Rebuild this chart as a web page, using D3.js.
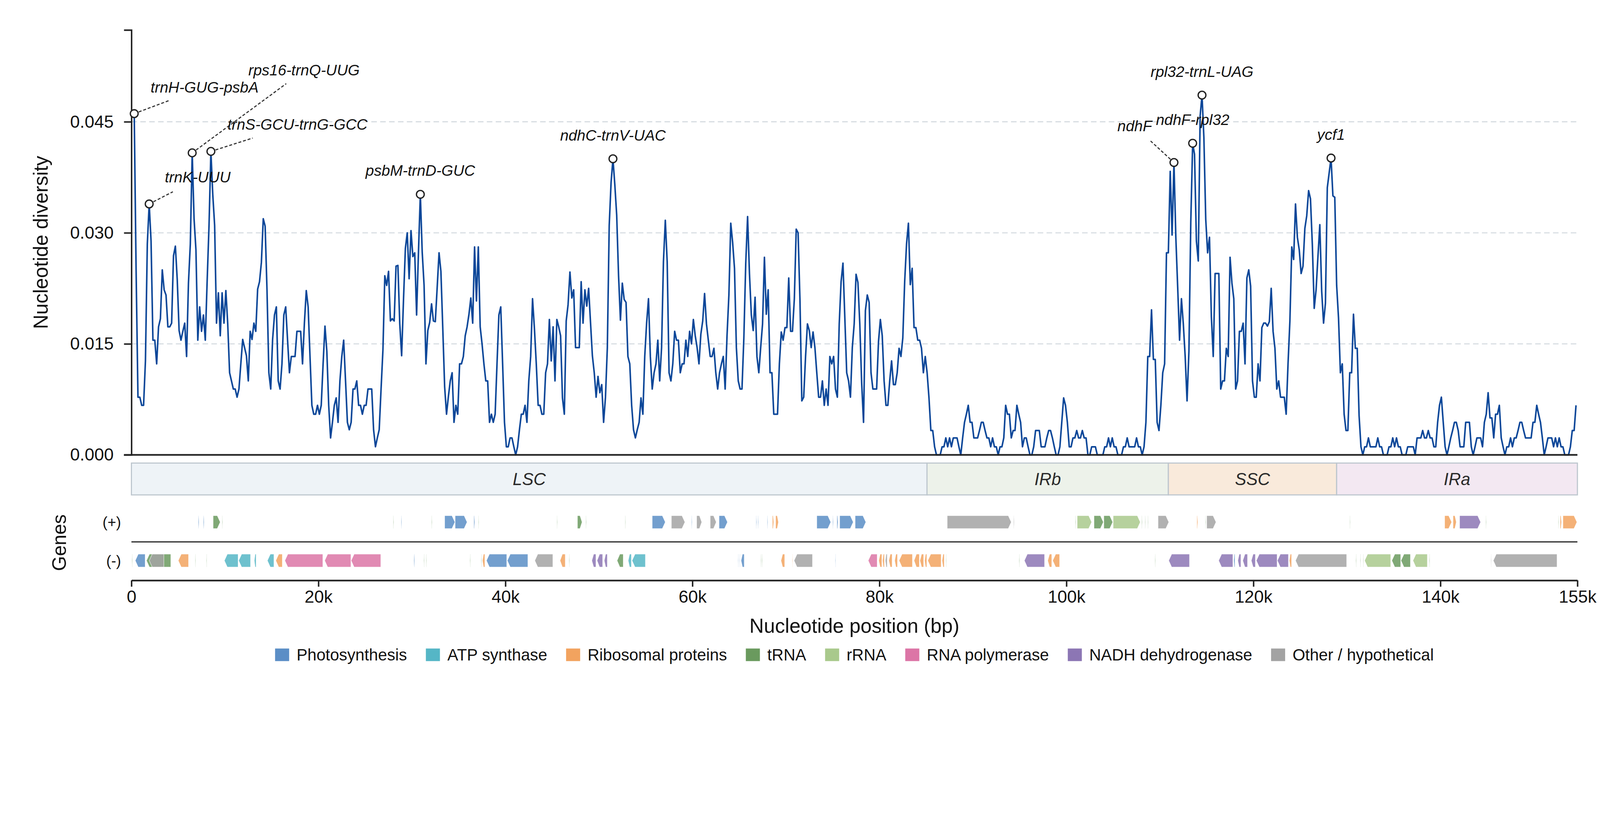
<!DOCTYPE html>
<html>
<head>
<meta charset="utf-8">
<script src="https://cdn.jsdelivr.net/npm/d3@7"></script>
<style>
  html, body { margin: 0; padding: 0; background: #fff; overflow: hidden; }
  svg { display: block; }
  text { font-family: "Liberation Sans", Arial, sans-serif; }
</style>
</head>
<body>
<div id="main"></div>
<script>
// sliding window: first window centre and step (bp)
const windowStart = 300;
const windowStep = 200;
const genomeLength = 154650;

// nucleotide diversity per window, in units of 1e-3
const piMilli = [
  46.1, 25.0, 7.8, 7.8, 6.7, 6.7, 12.7, 28.5, 33.9, 28.9,
  15.5, 15.5, 12.3, 17.3, 18.4, 25.0, 22.3, 21.6, 17.3, 17.3,
  17.8, 26.9, 28.2, 23.7, 16.8, 15.5, 16.7, 17.8, 13.3, 23.2,
  28.5, 40.8, 31.9, 27.7, 15.5, 20.0, 16.7, 18.9, 15.5, 23.5,
  31.0, 41.0, 35.2, 31.0, 17.8, 21.9, 16.1, 21.9, 17.8, 22.2,
  17.7, 11.1, 10.0, 8.9, 8.9, 7.8, 8.9, 12.3, 15.6, 14.5,
  13.4, 10.0, 16.7, 15.6, 17.8, 16.7, 22.4, 23.4, 26.0, 31.9,
  30.9, 22.3, 11.1, 8.9, 15.6, 18.9, 20.0, 10.0, 8.9, 12.3,
  18.9, 20.0, 15.5, 11.1, 13.3, 13.3, 13.3, 16.7, 16.7, 16.7,
  12.3, 17.8, 22.2, 20.0, 13.3, 6.7, 5.5, 5.5, 6.7, 5.5,
  6.7, 12.3, 17.4, 14.0, 6.7, 2.3, 4.4, 6.7, 7.7, 4.4,
  10.0, 13.3, 15.5, 10.0, 4.4, 3.4, 4.4, 8.9, 8.9, 10.0,
  6.7, 6.7, 5.5, 6.7, 6.7, 8.9, 8.9, 8.9, 3.4, 1.1,
  2.3, 3.4, 8.9, 14.2, 24.2, 22.9, 24.8, 18.1, 18.4, 18.1,
  25.5, 25.6, 17.7, 13.4, 21.0, 27.9, 30.0, 23.8, 30.3, 26.8,
  27.3, 18.9, 27.4, 35.2, 27.4, 22.9, 12.3, 16.8, 17.9, 20.4,
  18.1, 18.0, 22.6, 27.3, 24.8, 17.1, 9.2, 5.5, 7.9, 10.0,
  11.1, 4.4, 6.7, 5.5, 12.3, 12.3, 13.3, 16.1, 17.3, 19.0,
  21.2, 17.8, 28.1, 20.8, 28.1, 17.3, 15.0, 12.3, 10.0, 10.0,
  4.4, 5.5, 4.4, 5.5, 12.3, 18.9, 20.0, 12.3, 4.4, 1.1,
  1.1, 2.3, 2.3, 1.1, 0, 1.1, 3.4, 5.5, 5.5, 6.7,
  4.4, 10.0, 13.3, 21.1, 17.1, 12.3, 6.7, 6.7, 5.5, 5.5,
  11.1, 12.3, 18.3, 12.7, 17.3, 10.0, 18.3, 17.3, 16.1, 7.7,
  5.5, 18.1, 20.3, 24.7, 21.2, 22.3, 14.5, 14.5, 14.5, 23.4,
  17.8, 22.3, 20.1, 22.5, 17.9, 13.4, 11.1, 7.8, 10.6, 8.4,
  9.5, 4.4, 7.8, 14.5, 31.0, 36.8, 40.0, 36.5, 32.4, 24.2,
  18.2, 23.2, 21.0, 20.6, 13.3, 12.3, 6.7, 3.4, 2.3, 3.4,
  4.4, 7.7, 5.5, 13.3, 17.8, 21.1, 13.3, 8.9, 11.1, 12.3,
  15.5, 10.0, 14.5, 26.1, 31.7, 26.1, 11.1, 10.0, 12.3, 16.7,
  15.5, 15.5, 11.1, 12.3, 12.3, 15.5, 13.3, 16.7, 15.0, 18.3,
  16.1, 14.5, 12.3, 16.3, 18.1, 21.8, 17.7, 15.5, 13.3, 13.3,
  14.4, 11.1, 8.9, 11.1, 12.3, 13.3, 8.9, 16.1, 21.6, 31.3,
  28.7, 25.2, 14.5, 10.0, 8.9, 8.9, 15.8, 25.8, 32.2, 24.5,
  18.9, 16.8, 21.3, 13.3, 11.1, 14.5, 17.7, 26.7, 19.0, 22.3,
  11.1, 11.1, 5.5, 5.5, 5.5, 12.3, 16.6, 15.5, 17.2, 17.2,
  23.9, 16.7, 16.7, 21.1, 30.5, 30.0, 21.0, 7.3, 7.8, 13.3,
  17.7, 16.8, 14.5, 16.6, 14.5, 11.1, 7.8, 7.8, 10.0, 6.7,
  8.9, 6.7, 13.3, 12.3, 13.3, 8.9, 7.8, 17.7, 23.4, 25.9,
  18.5, 11.1, 10.0, 7.8, 14.5, 17.7, 24.4, 23.3, 17.7, 9.7,
  4.4, 19.5, 21.6, 20.6, 11.1, 8.9, 8.9, 8.9, 15.3, 18.3,
  16.1, 10.0, 6.7, 6.7, 10.0, 12.7, 9.5, 9.5, 11.1, 14.4,
  13.3, 15.8, 23.4, 28.5, 31.3, 23.0, 25.2, 17.2, 17.2, 15.5,
  15.5, 14.4, 11.1, 13.3, 11.1, 7.7, 3.3, 3.3, 1.1, 0,
  0, 0, 1.1, 1.1, 2.3, 1.1, 2.3, 1.1, 2.3, 2.3,
  2.3, 1.1, 0, 2.3, 4.4, 5.5, 6.7, 4.4, 4.4, 2.3,
  2.3, 2.3, 3.3, 4.4, 4.4, 3.3, 2.3, 2.3, 1.1, 2.3,
  1.1, 1.1, 0, 1.1, 1.1, 2.3, 6.7, 5.5, 5.5, 2.3,
  3.3, 3.3, 6.7, 5.5, 4.4, 1.1, 2.3, 2.3, 1.1, 0,
  0, 1.1, 3.3, 3.3, 3.3, 1.1, 1.1, 1.1, 2.3, 3.3,
  3.3, 2.3, 1.1, 0, 0, 1.1, 4.4, 7.7, 6.7, 4.4,
  1.1, 1.1, 2.3, 2.3, 3.3, 2.3, 2.3, 3.3, 2.3, 2.3,
  0, 0, 1.1, 1.1, 1.1, 0, 0, 0, 0, 1.1,
  1.1, 2.3, 1.1, 2.3, 1.1, 1.1, 0, 0, 0, 1.1,
  1.1, 2.3, 1.1, 1.1, 1.1, 1.1, 2.3, 1.1, 1.1, 0,
  1.1, 4.4, 13.3, 13.3, 19.6, 12.9, 12.9, 4.4, 3.3, 6.7,
  11.1, 12.3, 27.3, 27.3, 38.3, 29.7, 39.5, 29.4, 22.6, 15.5,
  21.1, 17.7, 13.3, 7.3, 14.0, 31.5, 42.1, 40.6, 28.9, 26.2,
  45.8, 48.6, 42.9, 31.8, 27.3, 29.4, 18.7, 13.3, 24.5, 24.5,
  24.5, 8.9, 10.0, 10.0, 14.4, 13.3, 26.7, 23.2, 21.1, 8.9,
  10.0, 16.7, 16.7, 17.8, 12.3, 23.9, 25.0, 22.8, 10.0, 7.8,
  7.8, 12.3, 10.0, 17.2, 17.8, 17.8, 17.4, 18.0, 22.5, 16.7,
  14.4, 8.9, 10.0, 7.8, 7.8, 7.8, 5.5, 12.3, 18.1, 28.1,
  26.4, 33.9, 29.4, 27.7, 24.5, 25.5, 30.6, 32.3, 35.7, 34.6,
  28.4, 19.8, 22.3, 26.8, 31.1, 22.1, 17.8, 20.5, 36.1, 38.1,
  40.1, 35.0, 34.8, 22.9, 18.5, 11.1, 12.3, 5.5, 3.3, 3.3,
  11.1, 11.1, 19.0, 14.4, 14.4, 5.3, 1.1, 0, 1.1, 1.1,
  2.3, 1.1, 1.1, 1.1, 1.1, 2.3, 1.1, 1.1, 0, 0,
  0, 1.1, 1.1, 2.3, 1.1, 2.3, 1.1, 1.1, 0, 0,
  0, 1.1, 1.1, 1.1, 1.1, 0, 2.3, 2.3, 2.3, 3.3,
  2.3, 2.3, 3.3, 2.3, 2.3, 1.1, 1.1, 4.4, 6.7, 7.8,
  4.4, 1.1, 0, 1.1, 2.3, 3.3, 4.4, 4.4, 3.3, 1.1,
  1.1, 1.1, 4.4, 4.4, 4.4, 1.1, 0, 1.1, 2.3, 2.3,
  2.3, 1.1, 4.4, 5.5, 8.4, 5.0, 5.0, 2.3, 5.5, 5.5,
  6.7, 2.3, 1.1, 0, 1.1, 1.1, 2.3, 1.1, 2.3, 2.3,
  3.3, 4.4, 4.4, 3.3, 2.3, 2.3, 2.3, 2.3, 4.4, 4.4,
  6.7, 5.5, 4.4, 2.3, 0, 1.1, 2.3, 2.3, 2.3, 1.1,
  2.3, 1.1, 2.3, 1.1, 1.1, 0, 0, 0, 1.1, 3.3,
  3.3, 6.7
];

// labelled hotspots: name and window index
const peakNames = ['trnH-GUG-psbA', 'trnK-UUU', 'rps16-trnQ-UUG', 'trnS-GCU-trnG-GCC',
  'psbM-trnD-GUC', 'ndhC-trnV-UAC', 'ndhF', 'ndhF-rpl32', 'rpl32-trnL-UAG', 'ycf1'];
const peakIndex = [0, 8, 31, 41, 153, 256, 556, 566, 571, 640];

// quadripartite regions (bp boundaries)
const regionNames = ['LSC', 'IRb', 'SSC', 'IRa'];
const regionBounds = [0, 85090, 110900, 128900, 154650];

// gene categories
const categoryNames = ['Photosynthesis', 'ATP synthase', 'Ribosomal proteins', 'tRNA',
  'rRNA', 'RNA polymerase', 'NADH dehydrogenase', 'Other / hypothetical'];

// genes: [start kb, end kb, strand, category index]
const genes = [
  [7.15, 7.23, '+', 0], [7.70, 7.78, '+', 0], [8.74, 9.50, '+', 3], [9.70, 9.76, '+', 3],
  [28.00, 28.06, '+', 3], [28.85, 28.92, '+', 0], [32.10, 32.16, '+', 3],
  [33.50, 34.60, '+', 0], [34.62, 35.90, '+', 0], [36.62, 36.72, '+', 0], [37.10, 37.16, '+', 3],
  [45.50, 45.56, '+', 3], [47.70, 48.20, '+', 3], [48.60, 48.66, '+', 3],
  [52.80, 52.86, '+', 3], [55.70, 57.10, '+', 0], [57.75, 59.20, '+', 7], [59.90, 59.97, '+', 0],
  [60.45, 61.00, '+', 7], [61.90, 62.55, '+', 7], [62.85, 63.75, '+', 0],
  [66.80, 66.87, '+', 0], [67.00, 67.07, '+', 0], [68.00, 68.07, '+', 0],
  [68.55, 68.70, '+', 2], [68.90, 69.20, '+', 2],
  [73.30, 74.80, '+', 0], [75.00, 75.07, '+', 0], [75.45, 75.57, '+', 0], [75.75, 77.20, '+', 0], [77.40, 78.55, '+', 0],
  [87.25, 94.10, '+', 7], [94.35, 94.42, '+', 7],
  [100.95, 101.01, '+', 3], [101.15, 102.70, '+', 4],
  [102.95, 103.95, '+', 3], [104.00, 104.95, '+', 3], [105.00, 107.90, '+', 4],
  [108.05, 108.11, '+', 3], [108.40, 108.46, '+', 3], [108.70, 108.76, '+', 3],
  [109.80, 110.95, '+', 7],
  [113.95, 114.05, '+', 2], [114.85, 114.91, '+', 3], [115.00, 116.00, '+', 7],
  [130.30, 130.36, '+', 3],
  [140.45, 141.20, '+', 2], [141.35, 141.70, '+', 2], [142.05, 144.30, '+', 6], [144.85, 144.91, '+', 3],
  [152.60, 152.66, '+', 3], [152.80, 152.95, '+', 2], [153.10, 154.60, '+', 2],

  [0.05, 0.11, '-', 3], [0.41, 1.47, '-', 0], [1.61, 4.21, '-', 3], [1.91, 3.47, '-', 7],
  [5.01, 6.11, '-', 2], [6.81, 6.87, '-', 3], [8.01, 8.07, '-', 3],
  [9.94, 11.41, '-', 1], [11.47, 12.74, '-', 1], [13.14, 13.34, '-', 1], [14.54, 15.24, '-', 1],
  [15.44, 16.14, '-', 2], [16.41, 20.47, '-', 5], [20.67, 23.47, '-', 5], [23.50, 26.67, '-', 5],
  [30.20, 30.28, '-', 0], [31.27, 31.33, '-', 3], [31.50, 31.56, '-', 3], [36.20, 36.26, '-', 3], [37.40, 37.46, '-', 3],
  [37.54, 37.80, '-', 2], [37.97, 40.14, '-', 0], [40.20, 42.40, '-', 0], [43.14, 45.07, '-', 7],
  [45.84, 46.40, '-', 2], [46.80, 46.86, '-', 3],
  [49.24, 49.68, '-', 6], [49.80, 50.40, '-', 6], [50.57, 50.90, '-', 6],
  [51.94, 52.60, '-', 3], [53.13, 53.47, '-', 1], [53.54, 54.97, '-', 1],
  [64.87, 64.93, '-', 0], [65.04, 65.10, '-', 0], [65.20, 65.54, '-', 0],
  [67.30, 67.36, '-', 3], [67.43, 67.49, '-', 3],
  [69.47, 69.87, '-', 2], [70.67, 70.73, '-', 2], [70.87, 72.84, '-', 7], [75.27, 75.33, '-', 0],
  [78.80, 79.76, '-', 5], [79.93, 80.26, '-', 2], [80.33, 80.53, '-', 2], [80.63, 80.83, '-', 7],
  [81.00, 81.36, '-', 2], [81.63, 81.93, '-', 2], [82.10, 83.53, '-', 2], [83.70, 84.27, '-', 2],
  [84.33, 84.73, '-', 2], [84.83, 85.07, '-', 2], [85.17, 86.60, '-', 2], [86.70, 86.93, '-', 2], [87.10, 87.16, '-', 3],
  [94.93, 94.99, '-', 3], [95.50, 97.66, '-', 6], [98.00, 98.43, '-', 2], [98.53, 99.27, '-', 2],
  [109.46, 109.52, '-', 3], [110.94, 113.16, '-', 6],
  [116.28, 117.80, '-', 6], [117.90, 118.03, '-', 0], [118.33, 118.66, '-', 6], [118.86, 119.37, '-', 6],
  [119.77, 120.21, '-', 6], [120.31, 122.53, '-', 6], [122.56, 123.74, '-', 6], [123.84, 124.08, '-', 2],
  [124.50, 129.97, '-', 7],
  [130.95, 131.01, '-', 3], [131.42, 131.48, '-', 3], [131.72, 131.78, '-', 3],
  [131.89, 134.68, '-', 4], [134.80, 135.75, '-', 3], [135.78, 136.79, '-', 3], [137.06, 138.60, '-', 4], [138.80, 138.86, '-', 3],
  [145.39, 145.45, '-', 7], [145.65, 152.47, '-', 7]
];

// axis ticks
const yTicks = [0, 0.015, 0.030, 0.045];
const xTicks = [0, 20000, 40000, 60000, 80000, 100000, 120000, 140000, genomeLength];
const xTickLabels = ['0', '20k', '40k', '60k', '80k', '100k', '120k', '140k', '155k'];

// ---- styling / layout ----
const categoryColors = ['#5b8ec6', '#55b6c6', '#f2a35f', '#6a9a5e', '#a9c98c', '#dc75a6', '#8c76b4', '#a3a3a3'];
const regionColors = ['#eef3f7', '#edf2ea', '#f9eadb', '#f3e8f2'];
// label offsets from the marked point (px): label centre, leader end
const labelLayout = {
  'trnH-GUG-psbA': { dx: 190, dy: -71, lx: 93, ly: -35 },
  'trnK-UUU': { dx: 131, dy: -73, lx: 64, ly: -33 },
  'rps16-trnQ-UUG': { dx: 302, dy: -224, lx: 254, ly: -187 },
  'trnS-GCU-trnG-GCC': { dx: 234, dy: -73, lx: 113, ly: -36 },
  'ndhF': { dx: -106, dy: -99, lx: -63, ly: -58 }
};

function main() {
  const width = 4322;
  const height = 2102;
  const left = 355;
  const right = 4261;
  const plotTop = 81;
  const plotBottom = 1229;

  // drawn in a fixed 4322x2102 frame, scaled to the viewport width, pinned to the top
  const svg = d3.select('#main').append('svg')
    .attr('viewBox', `0 0 ${width} ${height}`)
    .attr('preserveAspectRatio', 'xMidYMin meet')
    .style('width', '100vw')
    .style('height', '100vh');

  svg.append('rect').attr('width', width).attr('height', height).attr('fill', '#fff');

  const xScale = d3.scaleLinear().domain([0, genomeLength]).range([left, right]);
  const yScale = d3.scaleLinear().domain([0, 0.0574]).range([plotBottom, plotTop]);
  const winPos = i => windowStart + i * windowStep;

  // grid
  svg.append('g').selectAll('line')
    .data(yTicks.filter(d => d > 0))
    .enter().append('line')
    .attr('x1', left).attr('x2', right)
    .attr('y1', d => yScale(d)).attr('y2', d => yScale(d))
    .attr('stroke', '#d6dce1')
    .attr('stroke-width', 3)
    .attr('stroke-dasharray', '15,9');

  // diversity line
  const line = d3.line()
    .x((d, i) => xScale(winPos(i)))
    .y(d => yScale(d * 1e-3));

  svg.append('path')
    .datum(piMilli)
    .attr('d', line)
    .attr('fill', 'none')
    .attr('stroke', '#0d4799')
    .attr('stroke-width', 4.2)
    .attr('stroke-linejoin', 'round');

  // y axis
  const yAxis = d3.axisLeft(yScale)
    .tickValues(yTicks)
    .tickFormat(d3.format('.3f'))
    .tickSize(20)
    .tickSizeOuter(20)
    .tickPadding(28);

  const yg = svg.append('g')
    .attr('transform', `translate(${left},0)`)
    .call(yAxis);
  yg.select('.domain').attr('stroke', '#222').attr('stroke-width', 4);
  yg.selectAll('.tick line').attr('stroke', '#222').attr('stroke-width', 4);
  yg.selectAll('.tick text')
    .attr('font-family', '"Liberation Sans", Arial, sans-serif')
    .attr('font-size', 47)
    .attr('fill', '#111');

  // bottom spine of diversity panel
  svg.append('line')
    .attr('x1', left - 20).attr('x2', right)
    .attr('y1', plotBottom).attr('y2', plotBottom)
    .attr('stroke', '#222').attr('stroke-width', 4.5);

  svg.append('text')
    .attr('transform', `translate(110,${(plotTop + plotBottom) / 2}) rotate(-90)`)
    .attr('text-anchor', 'middle')
    .attr('dy', '0.35em')
    .attr('font-size', 54)
    .attr('fill', '#111')
    .text('Nucleotide diversity');

  // hotspot labels
  const peaks = peakNames.map((name, k) => ({
    name,
    cx: xScale(winPos(peakIndex[k])),
    cy: yScale(piMilli[peakIndex[k]] * 1e-3)
  }));

  const ann = svg.append('g');
  peaks.forEach(p => {
    const lay = labelLayout[p.name] || { dx: 0, dy: -64 };
    if (lay.lx !== undefined) {
      ann.append('line')
        .attr('x1', p.cx).attr('y1', p.cy)
        .attr('x2', p.cx + lay.lx).attr('y2', p.cy + lay.ly)
        .attr('stroke', '#333')
        .attr('stroke-width', 3)
        .attr('stroke-dasharray', '8,5');
    }
    ann.append('text')
      .attr('x', p.cx + lay.dx)
      .attr('y', p.cy + lay.dy)
      .attr('dy', '0.35em')
      .attr('text-anchor', 'middle')
      .attr('font-style', 'italic')
      .attr('font-size', 41)
      .attr('fill', '#111')
      .text(p.name);
  });

  ann.selectAll('circle')
    .data(peaks)
    .enter().append('circle')
    .attr('cx', d => d.cx)
    .attr('cy', d => d.cy)
    .attr('r', 10.5)
    .attr('fill', '#fff')
    .attr('stroke', '#222')
    .attr('stroke-width', 3.5);

  // region bar
  const regTop = 1251;
  const regH = 86;
  const reg = svg.append('g');
  reg.selectAll('rect')
    .data(regionNames)
    .enter().append('rect')
    .attr('x', (d, i) => xScale(regionBounds[i]))
    .attr('y', regTop)
    .attr('width', (d, i) => xScale(regionBounds[i + 1]) - xScale(regionBounds[i]))
    .attr('height', regH)
    .attr('fill', (d, i) => regionColors[i])
    .attr('stroke', '#bdc6ce')
    .attr('stroke-width', 3);
  reg.selectAll('text')
    .data(regionNames)
    .enter().append('text')
    .attr('x', (d, i) => (xScale(regionBounds[i]) + xScale(regionBounds[i + 1])) / 2)
    .attr('y', regTop + regH / 2)
    .attr('dy', '0.36em')
    .attr('text-anchor', 'middle')
    .attr('font-style', 'italic')
    .attr('font-size', 46)
    .attr('fill', '#2a2a2a')
    .text(d => d);

  // gene tracks
  const trackTop = { '+': 1393, '-': 1497 };
  const geneH = 35;

  function genePoly(g) {
    const x0 = xScale(g[0] * 1000);
    const x1 = xScale(g[1] * 1000);
    const w = Math.max(x1 - x0, 1.5);
    const head = Math.min(8, w * 0.45);
    const t = trackTop[g[2]];
    const m = t + geneH / 2;
    const b = t + geneH;
    if (g[2] === '+') {
      return [[x0, t], [x0 + w - head, t], [x0 + w, m], [x0 + w - head, b], [x0, b]];
    }
    return [[x0 + head, t], [x0 + w, t], [x0 + w, b], [x0 + head, b], [x0, m]];
  }

  svg.append('g').selectAll('polygon')
    .data(genes)
    .enter().append('polygon')
    .attr('points', d => genePoly(d).map(p => p.join(',')).join(' '))
    .attr('fill', d => categoryColors[d[3]])
    .attr('fill-opacity', 0.85)
    .attr('stroke', '#fff')
    .attr('stroke-width', 1.2)
    .attr('stroke-opacity', 0.8);

  svg.append('line')
    .attr('x1', left).attr('x2', right)
    .attr('y1', 1464).attr('y2', 1464)
    .attr('stroke', '#333').attr('stroke-width', 3.5);

  svg.append('text')
    .attr('x', 327).attr('y', trackTop['+'] + geneH / 2)
    .attr('dy', '0.35em').attr('text-anchor', 'end')
    .attr('font-size', 40).attr('fill', '#111')
    .text('(+)');
  svg.append('text')
    .attr('x', 327).attr('y', trackTop['-'] + geneH / 2)
    .attr('dy', '0.35em').attr('text-anchor', 'end')
    .attr('font-size', 40).attr('fill', '#111')
    .text('(-)');
  svg.append('text')
    .attr('transform', 'translate(160,1466) rotate(-90)')
    .attr('text-anchor', 'middle')
    .attr('dy', '0.35em')
    .attr('font-size', 52)
    .attr('fill', '#111')
    .text('Genes');

  // x axis
  const axisY = 1568;
  const xAxis = d3.axisBottom(xScale)
    .tickValues(xTicks)
    .tickFormat((d, i) => xTickLabels[i])
    .tickSize(17)
    .tickSizeOuter(0)
    .tickPadding(10);

  const xg = svg.append('g')
    .attr('transform', `translate(0,${axisY})`)
    .call(xAxis);
  xg.select('.domain').attr('stroke', '#222').attr('stroke-width', 4.5);
  xg.selectAll('.tick line').attr('stroke', '#222').attr('stroke-width', 4);
  xg.selectAll('.tick text')
    .attr('font-family', '"Liberation Sans", Arial, sans-serif')
    .attr('font-size', 47)
    .attr('fill', '#111');

  svg.append('text')
    .attr('x', (left + right) / 2)
    .attr('y', 1690)
    .attr('dy', '0.35em')
    .attr('text-anchor', 'middle')
    .attr('font-size', 54)
    .attr('fill', '#111')
    .text('Nucleotide position (bp)');

  // legend
  const legend = svg.append('g');
  const legendGap = 51;
  let cursor = 0;
  categoryNames.forEach((name, i) => {
    const item = legend.append('g').attr('transform', `translate(${cursor},0)`);
    item.append('rect')
      .attr('x', 0).attr('y', -17)
      .attr('width', 38).attr('height', 34)
      .attr('fill', categoryColors[i]);
    const t = item.append('text')
      .attr('x', 58).attr('y', 0)
      .attr('dy', '0.35em')
      .attr('font-size', 44)
      .attr('fill', '#111')
      .text(name);
    cursor += 58 + t.node().getComputedTextLength() + legendGap;
  });
  const legendW = cursor - legendGap;
  legend.attr('transform', `translate(${(left + right) / 2 - legendW / 2},1769)`);
}

document.addEventListener('DOMContentLoaded', main);
</script>
</body>
</html>
